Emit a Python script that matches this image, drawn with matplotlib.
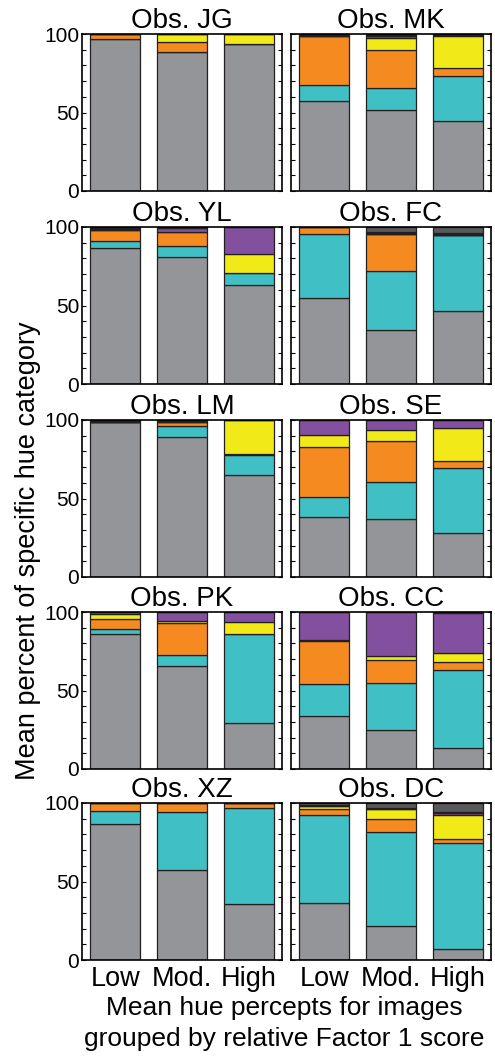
import numpy as np
import matplotlib
matplotlib.use('Agg')
import matplotlib.pyplot as plt
from matplotlib.ticker import MultipleLocator

plt.rcParams['font.family'] = ['Liberation Sans', 'DejaVu Sans']

# observers (panel order: left to right, top to bottom)
obserwatorzy = ['JG', 'MK', 'YL', 'FC', 'LM', 'SE', 'PK', 'CC', 'XZ', 'DC']
grupy = ['Low', 'Mod.', 'High']

# percent per hue category, one row per observer, columns Low / Mod. / High
szary = [[97.0, 88.3, 93.6], [57.6, 51.3, 44.9], [86.5, 80.6, 63.0], [54.9, 34.6, 46.4],
         [98.9, 89.3, 65.2], [38.5, 37.0, 27.8], [85.7, 65.5, 29.2], [33.7, 24.7, 13.3],
         [86.8, 57.2, 35.5], [36.2, 21.7, 7.0]]
turkus = [[0, 0, 0], [9.6, 14.2, 28.2], [4.7, 7.4, 7.9], [40.6, 37.6, 48.7],
          [0, 7.1, 12.4], [12.4, 23.5, 41.9], [3.6, 6.8, 56.6], [20.2, 29.8, 50.0],
          [7.9, 36.8, 61.3], [56.4, 59.6, 67.5]]
pomarancz = [[3.0, 6.4, 0], [31.3, 24.3, 5.1], [7.1, 8.8, 0], [4.5, 23.3, 0],
             [0, 2.1, 1.0], [31.6, 26.0, 4.0], [6.0, 20.6, 0.3], [27.6, 14.8, 4.7],
             [5.3, 6.0, 3.2], [3.8, 8.5, 2.5]]
zolty = [[0, 5.3, 6.4], [0, 7.7, 20.3], [0, 0, 12.0], [0, 0, 0],
         [0, 0, 21.4], [7.9, 7.1, 21.4], [3.4, 1.1, 7.7], [0.9, 2.8, 6.2],
         [0, 0, 0], [1.5, 6.6, 15.3]]
fiolet = [[0, 0, 0], [0, 1.5, 0.7], [0, 2.6, 17.1], [0, 0, 0],
          [0, 0, 0], [9.6, 6.4, 4.9], [1.3, 6.0, 6.2], [17.6, 27.9, 25.2],
          [0, 0, 0], [0, 0, 1.5]]
czarny = [[0, 0, 0], [1.5, 1.0, 0.8], [1.7, 0.6, 0], [0, 1.2, 1.0],
          [1.1, 1.5, 0], [0, 0, 0], [0, 0, 0], [0, 0, 0.6],
          [0, 0, 0], [0.6, 0.6, 0.3]]
ciemnoszary = [[0, 0, 0], [0, 0, 0], [0, 0, 0], [0, 3.3, 3.9],
               [0, 0, 0], [0, 0, 0], [0, 0, 0], [0, 0, 0],
               [0, 0, 0], [1.5, 3.0, 5.9]]

kategorie = [szary, turkus, pomarancz, zolty, fiolet, czarny, ciemnoszary]
kolory = ['#939598', '#40C0C4', '#F58B20', '#F2E918', '#8350A0', '#231F20', '#58595B']

W, H = 495, 1064
fig = plt.figure(figsize=(W / 100, H / 100), dpi=100)

lewe_x = [82, 291]
szer = 200
gora_y = [34, 227, 420, 612, 803]
wys = 157

x = np.arange(1, 4)
for i, obs in enumerate(obserwatorzy):
    wiersz, kol = divmod(i, 2)
    ax = fig.add_axes([lewe_x[kol] / W, 1 - (gora_y[wiersz] + wys) / H, szer / W, wys / H])
    dol = np.zeros(3)
    for dane, kolor in zip(kategorie, kolory):
        wart = np.array(dane[i], dtype=float)
        ax.bar(x, wart, width=0.75, bottom=dol, color=kolor,
               edgecolor='#231F20', linewidth=0.9)
        dol += wart
    ax.set_xlim(0.5, 3.5)
    ax.set_ylim(0, 100)
    ax.set_title('Obs. ' + obs, fontsize=20, pad=2)
    ax.set_yticks([0, 50, 100])
    ax.yaxis.set_minor_locator(MultipleLocator(10))
    ax.tick_params(axis='y', which='both', direction='in', left=True, right=True,
                   length=3, width=0.8, labelsize=15, pad=2)
    ax.tick_params(axis='x', length=0, labelsize=19.5, pad=4)
    ax.set_xticks(x)
    if kol == 1:
        ax.set_yticklabels([])
    if wiersz == 4:
        ax.set_xticklabels(grupy)
    else:
        ax.set_xticklabels([])
    for s in ax.spines.values():
        s.set_linewidth(1.2)

fig.text(28 / W, 1 - 551 / H, 'Mean percent of specific hue category',
         rotation=90, ha='center', va='center', fontsize=19.5)
fig.text(284 / W, 1 - 1008 / H, 'Mean hue percepts for images',
         ha='center', va='center', fontsize=19)
fig.text(284 / W, 1 - 1039 / H, 'grouped by relative Factor 1 score',
         ha='center', va='center', fontsize=19)

fig.savefig('out.png', dpi=100)
